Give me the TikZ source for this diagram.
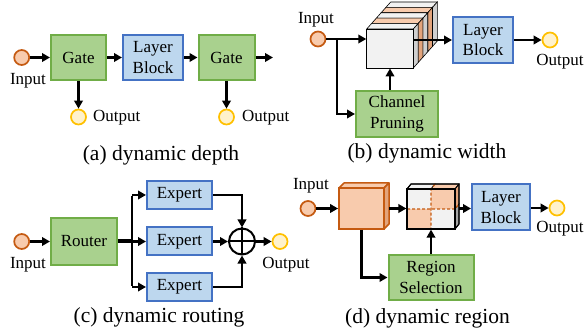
\documentclass[tikz,border=0pt]{standalone}
\usepackage{fontspec}
\setmainfont{Liberation Serif}
\usetikzlibrary{arrows.meta,calc}
\definecolor{gfill}{HTML}{A9D18E}\definecolor{gline}{HTML}{70AD47}
\definecolor{bfill}{HTML}{BDD7EE}\definecolor{bline}{HTML}{4472C4}
\definecolor{ofill}{HTML}{F8CBAD}\definecolor{oline}{HTML}{C55A11}
\definecolor{oside}{HTML}{E3A47C}
\definecolor{yfill}{HTML}{FFF2CC}\definecolor{yline}{HTML}{FFC000}
\definecolor{wfill}{HTML}{F2F2F2}\definecolor{wside}{HTML}{D0D0D0}
\definecolor{gside}{HTML}{A6A6A6}
\begin{document}
\begin{tikzpicture}[x=1pt,y=-1pt,
  lbl/.style={font=\fontsize{17}{20}\selectfont, inner sep=0pt},
  captxt/.style={font=\fontsize{21.5}{24}\selectfont, inner sep=0pt},
  gbox/.style={draw=gline, fill=gfill, line width=2pt, align=center,
    font=\fontsize{17}{20.5}\selectfont, inner sep=0pt},
  bbox/.style={draw=bline, fill=bfill, line width=2pt, align=center,
    font=\fontsize{17}{20.5}\selectfont, inner sep=0pt},
  inc/.style={circle, draw=oline, fill=ofill, line width=1.7pt, minimum size=15pt, inner sep=0pt},
  outc/.style={circle, draw=yline, fill=yfill, line width=1.7pt, minimum size=15pt, inner sep=0pt},
  arr/.style={-{Triangle[length=8pt,width=8.5pt]}, line width=2.5pt},
  ln/.style={line width=2.5pt},
  face/.style={draw=black, line width=0.6pt}]
\useasboundingbox (0,0) rectangle (587,334);

% ---------------- (a) dynamic depth
\node[inc] (a_in) at (21.7,57.5) {};
\node[lbl] at (28,81) {Input};
\node[gbox, minimum width=55pt, minimum height=45pt] (a_g1) at (78.5,57.5) {Gate};
\node[bbox, minimum width=60pt, minimum height=45pt] (a_lb) at (153,57.5) {Layer\\Block};
\node[gbox, minimum width=56pt, minimum height=45pt] (a_g2) at (226.5,57.5) {Gate};
\coordinate (a_end) at (273,57.5);
\node[outc] (a_o1) at (78.5,117) {};
\node[lbl, anchor=west] at (93,118) {Output};
\node[outc] (a_o2) at (226.5,117) {};
\node[lbl, anchor=west] at (242,118) {Output};
\node[captxt] at (161,155) {(a) dynamic depth};
\draw[arr] (a_in) -- (a_g1);
\draw[arr] (a_g1) -- (a_lb);
\draw[arr] (a_lb) -- (a_g2);
\draw[arr] (a_g2) -- (a_end);
\draw[arr] (a_g1.south) -- (a_o1.north);
\draw[arr] (a_g2.south) -- (a_o2.north);

% ---------------- (b) dynamic width
\node[lbl] at (316,20) {Input};
\node[inc] (b_in) at (318,39) {};
\coordinate (b_j) at (337,39);
\foreach \k/\tc/\sc in {4/wfill/wside,3/ofill/oside,2/wfill/wside,1/ofill/oside,0/wfill/wside}{
  \pgfmathsetmacro{\xa}{366.7+\k*4.8}
  \pgfmathsetmacro{\xb}{413.3+\k*4.8}
  \pgfmathsetmacro{\xc}{366.7+(\k+1)*4.8}
  \pgfmathsetmacro{\xd}{413.3+(\k+1)*4.8}
  \pgfmathsetmacro{\ya}{29-\k*5.4}
  \pgfmathsetmacro{\yb}{29-(\k+1)*5.4}
  \pgfmathsetmacro{\yc}{68-\k*5.4}
  \pgfmathsetmacro{\yd}{68-(\k+1)*5.4}
  \filldraw[face, fill=\tc] (\xa,\ya) -- (\xb,\ya) -- (\xd,\yb) -- (\xc,\yb) -- cycle;
  \filldraw[face, fill=\sc] (\xb,\ya) -- (\xd,\yb) -- (\xd,\yd) -- (\xb,\yc) -- cycle;
}
\node[draw=black, fill=wfill, line width=0.8pt, minimum width=46.6pt, minimum height=39pt, inner sep=0pt] (b_cube) at (390,48.5) {};
\node[gbox, minimum width=82pt, minimum height=46pt] (b_cp) at (397,114) {Channel\\Pruning};
\node[bbox, minimum width=60pt, minimum height=46pt] (b_lb) at (483,40) {Layer\\Block};
\node[outc] (b_out) at (550,40) {};
\node[lbl] at (560,62) {Output};
\node[captxt] at (427,153) {(b) dynamic width};
\draw[arr] (b_in) -- (b_in -| b_cube.west);
\draw[arr] (b_j) |- (b_cp.west);
\draw[arr] (b_cp.north -| b_cube) -- (b_cube.south);
\draw[arr] (b_cube.east |- b_lb) -- (b_lb.west);
\draw[arr] (b_lb) -- (b_out);

% ---------------- (c) dynamic routing
\node[inc] (c_in) at (21.7,241.5) {};
\node[lbl] at (28,265) {Input};
\node[gbox, minimum width=66pt, minimum height=46pt] (c_r) at (84,241.5) {Router};
\coordinate (c_j) at (132,241.5);
\node[bbox, minimum width=65pt, minimum height=28pt] (c_e1) at (179.5,195) {Expert};
\node[bbox, minimum width=65pt, minimum height=28pt] (c_e2) at (179.5,241.5) {Expert};
\node[bbox, minimum width=65pt, minimum height=28pt] (c_e3) at (179.5,287) {Expert};
\node[circle, draw=black, fill=white, line width=2pt, minimum size=26pt, inner sep=0pt] (c_sum) at (242,241.5) {};
\draw[line width=2pt] (c_sum.north) -- (c_sum.south) (c_sum.west) -- (c_sum.east);
\node[outc] (c_out) at (280,241.5) {};
\node[lbl] at (286,265) {Output};
\node[captxt] at (159,317) {(c) dynamic routing};
\draw[arr] (c_in) -- (c_r);
\draw[line width=4pt] (c_r.east) -- (c_j);
\draw[ln] ([yshift=-1.25pt]c_e1 -| c_j) -- ([yshift=1.25pt]c_e3 -| c_j);
\draw[arr] (c_e1 -| c_j) -- (c_e1.west);
\draw[arr] (c_j) -- (c_e2.west);
\draw[arr] (c_e3 -| c_j) -- (c_e3.west);
\draw[arr] (c_e1.east) -| (c_sum.north);
\draw[arr] (c_e2) -- (c_sum);
\draw[arr] (c_e3.east) -| (c_sum.south);
\draw[arr] (c_sum) -- (c_out);

% ---------------- (d) dynamic region
\node[lbl] at (311,186) {Input};
\node[inc] (d_in) at (308,208.5) {};
% cube 1
\filldraw[draw=oline, fill=ofill, line width=1.5pt, line join=round] (339,188) -- (384,188) -- (389,183) -- (344,183) -- cycle;
\filldraw[draw=oline, fill=oside, line width=1.5pt, line join=round] (384,188) -- (389,183) -- (389,224) -- (384,229) -- cycle;
\node[draw=oline, fill=ofill, line width=1.8pt, minimum width=45pt, minimum height=41pt, inner sep=0pt] (d_c1) at (361.5,208.5) {};
\coordinate (d_c1r) at (389,208.5);
% cube 2
\fill[wfill] (407,189) rectangle (431,209);
\fill[ofill] (431,189) rectangle (455,209);
\fill[ofill] (407,209) rectangle (431,229);
\fill[wfill] (431,209) rectangle (455,229);
\filldraw[face, fill=wfill] (407,189) -- (431,189) -- (435,184) -- (411,184) -- cycle;
\filldraw[face, fill=ofill] (431,189) -- (455,189) -- (459,184) -- (435,184) -- cycle;
\filldraw[face, fill=oside] (455,189) -- (459,184) -- (459,204) -- (455,209) -- cycle;
\filldraw[face, fill=gside] (455,209) -- (459,204) -- (459,224) -- (455,229) -- cycle;
\draw[draw=oline, line width=1.4pt, dash pattern=on 3pt off 2pt] (435,184) -- (431,189) -- (431,229);
\draw[draw=oline, line width=1.4pt, dash pattern=on 3pt off 2pt] (407,209) -- (455,209) -- (459,204);
\draw[black, line width=1.2pt, line join=round] (407,189) -- (411,184) -- (459,184) -- (459,224) -- (455,229);
\draw[black, line width=0.8pt] (455,189) -- (459,184);
\node[draw=black, line width=1.2pt, minimum width=48pt, minimum height=40pt, inner sep=0pt] (d_c2) at (431,209) {};
\coordinate (d_c2r) at (459,208.5);
\node[bbox, minimum width=58pt, minimum height=46pt] (d_lb) at (501,207.5) {Layer\\Block};
\node[outc] (d_out) at (557,208) {};
\node[lbl] at (560,229) {Output};
\node[gbox, minimum width=85pt, minimum height=45pt] (d_rs) at (431,277.5) {Region\\Selection};
\node[captxt] at (427.5,318) {(d) dynamic region};
\draw[arr] (d_in) -- (d_in -| d_c1.west);
\draw[arr] (d_c1r) -- (d_c1r -| d_c2.west);
\draw[arr] (d_c2r) -- (d_c2r -| d_lb.west);
\draw[arr] (d_lb.east |- d_out) -- (d_out);
\draw[arr] (d_c1.south) |- (d_rs.west);
\draw[arr] (d_rs.north) -- (d_c2.south);
\end{tikzpicture}
\end{document}
